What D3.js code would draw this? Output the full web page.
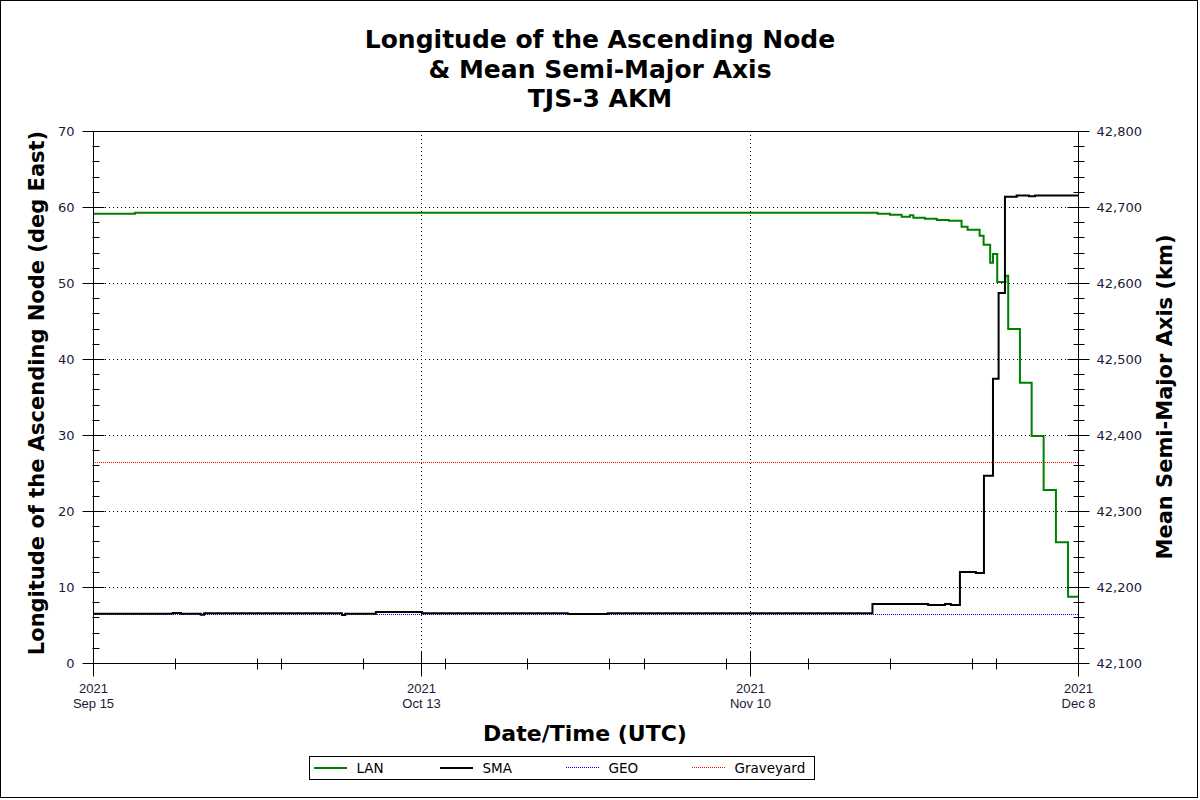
<!DOCTYPE html>
<html>
<head>
<meta charset="utf-8">
<script src="https://cdn.jsdelivr.net/npm/d3@7"></script>
<style>
  html, body { margin: 0; padding: 0; background: #fff; }
  svg { display: block; font-family: "DejaVu Sans", Verdana, sans-serif; }
</style>
</head>
<body>
<svg id="chart" width="1200" height="800"></svg>
<script>
// LAN (deg East) – step series
const lanDates = [
  "2021-09-15T00:00", "2021-09-18T14:00", "2021-11-20T22:00", "2021-11-21T23:00",
  "2021-11-22T23:00", "2021-11-23T16:00", "2021-11-23T23:00", "2021-11-24T22:30",
  "2021-11-25T23:00", "2021-11-26T23:45", "2021-11-28T01:40", "2021-11-28T14:00",
  "2021-11-29T14:40", "2021-11-29T22:50", "2021-11-30T12:15", "2021-11-30T18:00",
  "2021-12-01T02:40", "2021-12-01T19:20", "2021-12-02T01:10", "2021-12-03T01:10",
  "2021-12-04T01:10", "2021-12-05T01:40", "2021-12-06T02:50", "2021-12-07T03:40",
  "2021-12-08T00:00"
];
const lanValues = [
  59.12, 59.25, 59.12, 58.99,
  58.72, 58.90, 58.59, 58.46,
  58.29, 58.20, 57.41, 57.01,
  56.22, 55.04, 52.67, 53.82,
  50.13, 50.96, 43.95, 36.88,
  29.87, 22.76, 15.88, 8.72,
  8.72
];

// SMA (km) – step series
const smaDates = [
  "2021-09-15T00:00", "2021-09-21T19:00", "2021-09-22T12:00", "2021-09-24T04:30",
  "2021-09-24T11:30", "2021-10-06T05:30", "2021-10-06T12:15", "2021-10-09T03:00",
  "2021-10-13T01:30", "2021-10-25T11:45", "2021-10-28T21:40", "2021-11-20T11:20",
  "2021-11-25T05:15", "2021-11-26T15:40", "2021-11-27T03:50", "2021-11-27T22:20",
  "2021-11-29T07:00", "2021-11-29T23:30", "2021-11-30T18:00", "2021-12-01T05:30",
  "2021-12-01T18:30", "2021-12-02T18:30", "2021-12-03T19:40", "2021-12-04T08:00",
  "2021-12-08T00:00"
];
const smaValues = [
  42164.9, 42165.8, 42164.9, 42163.6,
  42165.4, 42163.0, 42164.9, 42167.1,
  42165.4, 42164.5, 42165.4, 42177.6,
  42176.3, 42177.6, 42176.3, 42219.7,
  42218.4, 42346.4, 42474.0, 42587.0,
  42713.6, 42715.0, 42714.0, 42715.0,
  42715.0
];

const geoSma = 42164;
const graveyardSma = 42364;

const xTickDates = ["2021-09-15", "2021-10-13", "2021-11-10", "2021-12-08"];
const xTickYears = ["2021", "2021", "2021", "2021"];
const xTickDays = ["Sep 15", "Oct 13", "Nov 10", "Dec 8"];
const leftTicks = [0, 10, 20, 30, 40, 50, 60, 70];
const rightTicks = [42100, 42200, 42300, 42400, 42500, 42600, 42700, 42800];

const legendNames = ["LAN", "SMA", "GEO", "Graveyard"];
const legendColors = ["#008000", "#000000", "#0000ff", "#ff0000"];

const titleLines = ["Longitude of the Ascending Node", "& Mean Semi-Major Axis", "TJS-3 AKM"];

const svg = d3.select("#chart");
const width = 1200, height = 800;
const margin = { left: 93, right: 1078, top: 131, bottom: 663 };
const parse = d3.utcParse("%Y-%m-%dT%H:%M");
const parseDay = d3.utcParse("%Y-%m-%d");

const x = d3.scaleUtc()
  .domain([parseDay(xTickDates[0]), parseDay(xTickDates[xTickDates.length - 1])])
  .range([margin.left, margin.right]);
const yL = d3.scaleLinear().domain([0, 70]).range([margin.bottom, margin.top]);
const yR = d3.scaleLinear().domain([42100, 42800]).range([margin.bottom, margin.top]);

// outer frame
svg.append("rect")
  .attr("x", 0.5).attr("y", 0.5)
  .attr("width", width - 3).attr("height", height - 3)
  .attr("fill", "none").attr("stroke", "#000");

// grid
const grid = svg.append("g").attr("stroke", "#000").attr("stroke-dasharray", "1,3")
  .attr("shape-rendering", "crispEdges");
grid.selectAll("line.h")
  .data(leftTicks.slice(1, -1))
  .join("line")
  .attr("x1", margin.left).attr("x2", margin.right)
  .attr("y1", d => Math.round(yL(d)) + 0.5).attr("y2", d => Math.round(yL(d)) + 0.5);
grid.selectAll("line.v")
  .data(xTickDates.slice(1, -1))
  .join("line")
  .attr("x1", d => Math.round(x(parseDay(d))) + 0.5).attr("x2", d => Math.round(x(parseDay(d))) + 0.5)
  .attr("y1", margin.top).attr("y2", margin.bottom);

// reference lines
svg.append("line")
  .attr("x1", margin.left).attr("x2", margin.right)
  .attr("y1", Math.round(yR(geoSma)) + 0.5).attr("y2", Math.round(yR(geoSma)) + 0.5)
  .attr("stroke", legendColors[2]).attr("stroke-dasharray", "1,1")
  .attr("shape-rendering", "crispEdges");
svg.append("line")
  .attr("x1", margin.left).attr("x2", margin.right)
  .attr("y1", Math.round(yR(graveyardSma)) + 0.5).attr("y2", Math.round(yR(graveyardSma)) + 0.5)
  .attr("stroke", legendColors[3]).attr("stroke-dasharray", "1,1")
  .attr("shape-rendering", "crispEdges");

// series
const lanData = lanDates.map((d, i) => [parse(d), lanValues[i]]);
const smaData = smaDates.map((d, i) => [parse(d), smaValues[i]]);

svg.append("path")
  .datum(lanData)
  .attr("fill", "none")
  .attr("stroke", legendColors[0])
  .attr("stroke-width", 2)
  .attr("d", d3.line().curve(d3.curveStepAfter).x(d => x(d[0])).y(d => yL(d[1])));

svg.append("path")
  .datum(smaData)
  .attr("fill", "none")
  .attr("stroke", legendColors[1])
  .attr("stroke-width", 2)
  .attr("d", d3.line().curve(d3.curveStepAfter).x(d => x(d[0])).y(d => yR(d[1])));

// plot frame (top, left, right, bottom)
svg.append("rect")
  .attr("x", margin.left + 0.5).attr("y", margin.top + 0.5)
  .attr("width", margin.right - margin.left).attr("height", margin.bottom - margin.top)
  .attr("fill", "none").attr("stroke", "#000");

// axes
const tickFont = g => g.selectAll("text")
  .attr("font-size", 13).attr("fill", "#1a1a3a")
  .attr("font-family", "DejaVu Sans, Verdana, sans-serif");

const minorLeft = d3.range(0, 70.01, 2).filter(v => v % 10 !== 0);
const minorRight = d3.range(42100, 42800.01, 20).filter(v => v % 100 !== 0);

const leftAxis = svg.append("g")
  .attr("transform", `translate(${margin.left + 0.5},0.5)`)
  .call(d3.axisLeft(yL).tickValues(leftTicks).tickSize(11).tickPadding(8));
leftAxis.select(".domain").remove();
leftAxis.selectAll(".tick line").attr("x1", 11);
leftAxis.selectAll(".tick").attr("transform", d => `translate(0,${Math.round(yL(d))})`);
leftAxis.call(tickFont);
leftAxis.selectAll("line.minor")
  .data(minorLeft)
  .join("line").attr("class", "minor")
  .attr("x1", -1).attr("x2", 6)
  .attr("y1", d => Math.round(yL(d))).attr("y2", d => Math.round(yL(d)))
  .attr("stroke", "#000");

const rightAxis = svg.append("g")
  .attr("transform", `translate(${margin.right + 0.5},0.5)`)
  .call(d3.axisRight(yR).tickValues(rightTicks).tickSize(11).tickPadding(7).tickFormat(d3.format(",")));
rightAxis.select(".domain").remove();
rightAxis.selectAll(".tick line").attr("x1", -11);
rightAxis.selectAll(".tick").attr("transform", d => `translate(0,${Math.round(yR(d))})`);
rightAxis.call(tickFont);
rightAxis.selectAll("line.minor")
  .data(minorRight)
  .join("line").attr("class", "minor")
  .attr("x1", -5).attr("x2", 6)
  .attr("y1", d => Math.round(yR(d))).attr("y2", d => Math.round(yR(d)))
  .attr("stroke", "#000");

const minorX = d3.utcDay.every(7).range(x.domain()[0], x.domain()[1])
  .filter(d => !xTickDates.some(t => +parseDay(t) === +d));

const bottomAxis = svg.append("g")
  .attr("transform", `translate(0.5,${margin.bottom + 0.5})`)
  .call(d3.axisBottom(x).tickValues(xTickDates.map(d => parseDay(d))).tickSize(13).tickFormat(""));
bottomAxis.select(".domain").remove();
bottomAxis.selectAll(".tick line").attr("y1", -12);
bottomAxis.selectAll(".tick").attr("transform", d => `translate(${Math.round(x(d))},0)`);
bottomAxis.selectAll("line.minor")
  .data(minorX)
  .join("line").attr("class", "minor")
  .attr("x1", d => Math.round(x(d))).attr("x2", d => Math.round(x(d)))
  .attr("y1", -5).attr("y2", 6)
  .attr("stroke", "#000");
bottomAxis.selectAll("text.lab")
  .data(xTickDates)
  .join("text").attr("class", "lab")
  .attr("x", d => Math.round(x(parseDay(d))))
  .attr("text-anchor", "middle")
  .attr("font-size", 13).attr("fill", "#1a1a3a")
  .each(function (d, i) {
    const t = d3.select(this);
    t.append("tspan").attr("x", Math.round(x(parseDay(d)))).attr("y", 29).text(xTickYears[i]);
    t.append("tspan").attr("x", Math.round(x(parseDay(d)))).attr("y", 44).text(xTickDays[i]);
  });

// titles
svg.append("text")
  .attr("text-anchor", "middle")
  .attr("font-size", 25).attr("font-weight", "bold")
  .selectAll("tspan")
  .data(titleLines)
  .join("tspan")
  .attr("x", 600)
  .attr("y", (d, i) => 48 + i * 29.5)
  .text(d => d);

svg.append("text")
  .attr("x", 585).attr("y", 741)
  .attr("text-anchor", "middle")
  .attr("font-size", 22).attr("font-weight", "bold")
  .text("Date/Time (UTC)");

svg.append("text")
  .attr("transform", `translate(44,${(margin.top + margin.bottom) / 2 - 4}) rotate(-90)`)
  .attr("text-anchor", "middle")
  .attr("font-size", 21).attr("font-weight", "bold")
  .text("Longitude of the Ascending Node (deg East)");

svg.append("text")
  .attr("transform", `translate(1172,${(margin.top + margin.bottom) / 2}) rotate(-90)`)
  .attr("text-anchor", "middle")
  .attr("font-size", 21).attr("font-weight", "bold")
  .text("Mean Semi-Major Axis (km)");

// legend
const legend = svg.append("g").attr("transform", "translate(309.5,756.5)");
legend.append("rect")
  .attr("width", 505).attr("height", 23)
  .attr("fill", "#fff").attr("stroke", "#000");
const item = legend.selectAll("g.item")
  .data(legendNames)
  .join("g").attr("class", "item")
  .attr("transform", (d, i) => `translate(${4 + i * 126},11)`);
item.append("line")
  .attr("x1", 0).attr("x2", 33)
  .attr("stroke", (d, i) => legendColors[i])
  .attr("stroke-width", (d, i) => i < 2 ? 2 : 1)
  .attr("stroke-dasharray", (d, i) => i < 2 ? null : "1,1")
  .attr("shape-rendering", "crispEdges");
item.append("text")
  .attr("x", 43).attr("y", 5)
  .attr("font-size", 13.5).attr("fill", "#000")
  .text(d => d);
</script>
</body>
</html>
